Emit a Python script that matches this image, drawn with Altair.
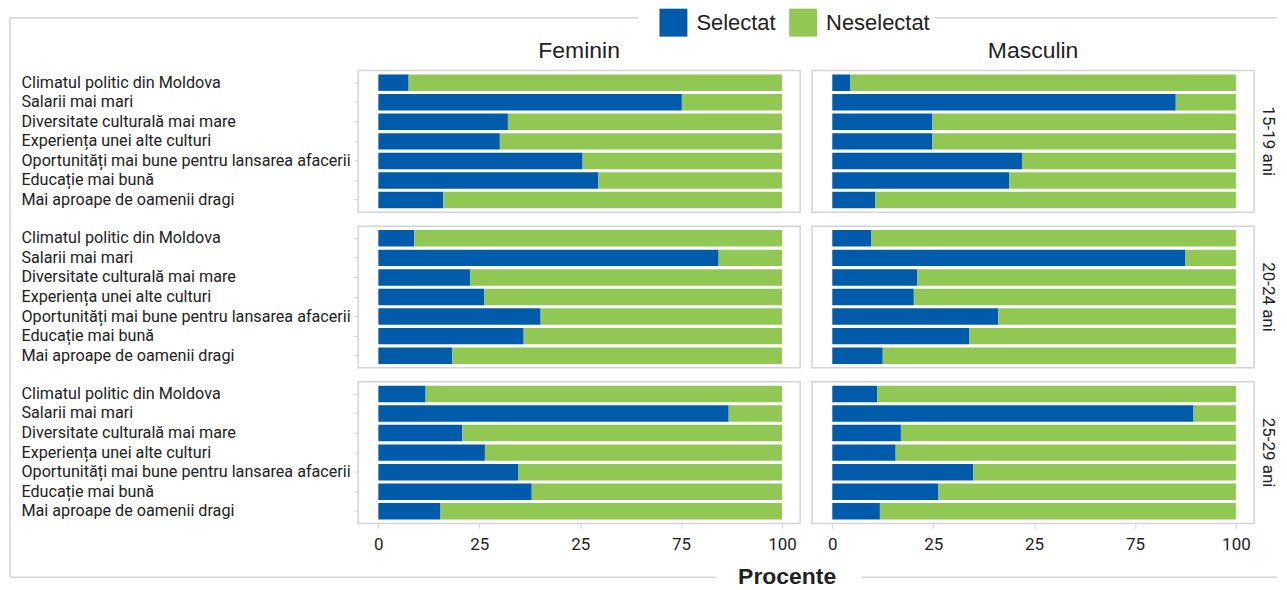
import altair as alt
import pandas as pd

categories = [
    "Climatul politic din Moldova",
    "Salarii mai mari",
    "Diversitate culturală mai mare",
    "Experiența unei alte culturi",
    "Oportunități mai bune pentru lansarea  afacerii",
    "Educație mai bună",
    "Mai aproape de oamenii dragi",
]
ages = ["15-19 ani", "20-24 ani", "25-29 ani"]
sexes = ["Feminin", "Masculin"]
statuses = ["Selectat", "Neselectat"]
axis_title = "Procente"

fem_15_19 = [7.5, 75.2, 32.1, 30.1, 50.6, 54.5, 16.1]
fem_20_24 = [8.9, 84.3, 22.7, 26.2, 40.2, 36.0, 18.3]
fem_25_29 = [11.7, 86.8, 20.8, 26.4, 34.6, 38.0, 15.4]
masc_15_19 = [4.4, 85.1, 24.8, 24.8, 47.0, 43.8, 10.6]
masc_20_24 = [9.6, 87.5, 21.1, 20.2, 41.1, 33.9, 12.5]
masc_25_29 = [11.1, 89.5, 17.0, 15.7, 34.9, 26.3, 11.8]

selected = {
    ("Feminin", "15-19 ani"): fem_15_19,
    ("Feminin", "20-24 ani"): fem_20_24,
    ("Feminin", "25-29 ani"): fem_25_29,
    ("Masculin", "15-19 ani"): masc_15_19,
    ("Masculin", "20-24 ani"): masc_20_24,
    ("Masculin", "25-29 ani"): masc_25_29,
}

rows = []
for (sex, age), vals in selected.items():
    for cat, v in zip(categories, vals):
        rows.append({"Sex": sex, "Varsta": age, "Motiv": cat, "Status": "Selectat", "Ord": 0, "Procent": v})
        rows.append({"Sex": sex, "Varsta": age, "Motiv": cat, "Status": "Neselectat", "Ord": 1, "Procent": round(100 - v, 1)})
df = pd.DataFrame(rows)

BLUE = "#005BAA"
GREEN = "#91C854"
GRID = "#d4d4d4"
TXT = "#222222"

bars = alt.Chart().mark_bar().encode(
    y=alt.Y(
        "Motiv:N",
        sort=categories,
        scale=alt.Scale(paddingInner=0.16, paddingOuter=0.2),
        axis=alt.Axis(
            title=None, labelAlign="left", labelPadding=333, tickSize=5,
            domain=False, tickColor=GRID, labelFont="Roboto", labelFontSize=16.2,
            labelColor=TXT, labelLimit=400,
        ),
    ),
    x=alt.X(
        "Procent:Q",
        stack="zero",
        scale=alt.Scale(domain=[-5, 104.5], nice=False, zero=False),
        axis=alt.Axis(
            title=None, values=[0, 25, 50, 75, 100],
            labelExpr="datum.value == 50 ? '25' : datum.label",
            grid=False, domain=False, tickColor=GRID, tickSize=5,
            labelFont="Roboto", labelFontSize=17, labelColor=TXT, labelPadding=8,
        ),
    ),
    color=alt.Color(
        "Status:N",
        scale=alt.Scale(domain=statuses, range=[BLUE, GREEN]),
        legend=alt.Legend(
            title=None, orient="none", legendX=302, legendY=-62,
            direction="horizontal", symbolType="square", symbolSize=784,
            symbolStrokeWidth=0, symbolOpacity=1,
            labelFont="Liberation Sans", labelFontSize=22, labelColor=TXT,
            columnPadding=13, labelOffset=9,
        ),
    ),
    order=alt.Order("Ord:Q"),
).properties(width=443, height=142)

# outer frame and bottom title, drawn once from the top-left cell
first = (alt.datum.Sex == "Feminin") & (alt.datum.Varsta == "15-19 ani") & \
        (alt.datum.Motiv == categories[0]) & (alt.datum.Status == "Selectat")
TOP = -53
BOTTOM = 508
RIGHT = 921
segments = [
    (-349, -349, TOP, BOTTOM),
    (-349, 281, TOP, TOP),
    (578, RIGHT, TOP, TOP),
    (-349, 359, BOTTOM, BOTTOM),
    (505, RIGHT, BOTTOM, BOTTOM),
]
frame = [
    alt.Chart().mark_rule(color=GRID, strokeWidth=1.5).encode(
        x=alt.value(a), x2=alt.value(b), y=alt.value(c), y2=alt.value(d)
    ).transform_filter(first)
    for a, b, c, d in segments
]
title_mark = alt.Chart().mark_text(
    font="Liberation Sans", fontSize=23, fontWeight="bold", color=TXT,
    align="center", baseline="middle",
).encode(
    x=alt.value(430), y=alt.value(BOTTOM), text=alt.value(axis_title)
).transform_filter(first)

chart = alt.layer(bars, *frame, title_mark, data=df).facet(
    row=alt.Row(
        "Varsta:N", sort=ages,
        header=alt.Header(title=None, labelAngle=90, labelOrient="right",
                          labelFont="Roboto", labelFontSize=17, labelColor=TXT,
                          labelPadding=5),
    ),
    column=alt.Column(
        "Sex:N", sort=sexes,
        header=alt.Header(title=None, labelFont="Liberation Sans", labelFontSize=23,
                          labelColor=TXT, labelPadding=8),
    ),
    spacing={"row": 14, "column": 12},
    bounds="flush",
).properties(
    padding=0,
).configure_view(stroke=GRID, strokeWidth=1.5)

chart.save("out.html", embed_options={"renderer": "svg", "actions": False})
